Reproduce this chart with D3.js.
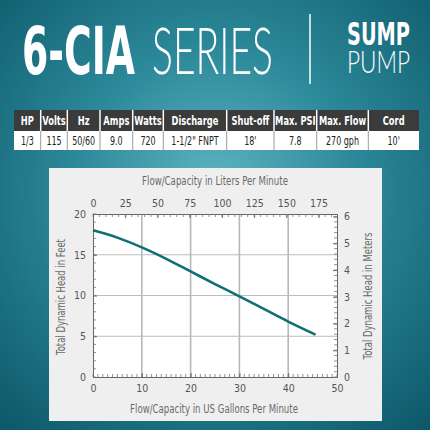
<!DOCTYPE html>
<html><head><meta charset="utf-8">
<script src="https://cdn.jsdelivr.net/npm/d3@7"></script>
<style>html,body{margin:0;padding:0;background:#0d5f6f;}svg{display:block;}</style>
</head><body>
<script>
// ---- data ----
const tableHeaders = ["HP","Volts","Hz","Amps","Watts","Discharge","Shut-off","Max. PSI","Max. Flow","Cord"];
const tableValues = ["1/3","115","50/60","9.0","720","1-1/2\" FNPT","18'","7.8","270 gph","10'"];
const flowGpm = [0, 5, 10, 15, 20, 25, 30, 35, 40, 45.6];
const headFeet = [18.0, 17.1, 15.9, 14.5, 12.95, 11.4, 9.9, 8.35, 6.8, 5.2];
const gpmTicks = [0,10,20,30,40,50];
const feetTicks = [0,5,10,15,20];
const literTicks = [0,25,50,75,100,125,150,175];
const meterTicks = [0,1,2,3,4,5,6];

const W = 430, H = 430;
const svg = d3.select("body").append("svg").attr("width", W).attr("height", H);
const defs = svg.append("defs");
const rg = defs.append("radialGradient").attr("id","bg").attr("gradientUnits","userSpaceOnUse")
  .attr("cx",215).attr("cy",190).attr("r",330);
rg.append("stop").attr("offset","0").attr("stop-color","#5fb4c2");
rg.append("stop").attr("offset","0.45").attr("stop-color","#2a8797");
rg.append("stop").attr("offset","1").attr("stop-color","#0b5566");
svg.append("rect").attr("width",W).attr("height",H).attr("fill","url(#bg)");

const narrow = "'DejaVu Sans Condensed','DejaVu Sans',sans-serif";
const thin = "Lato,'Open Sans',Roboto,sans-serif";

// text fitted to a target width by horizontal scaling (anchor start/middle at x)
function fitText(parent, str, x, y, size, target, opts){
  const g = parent.append("g");
  const t = g.append("text").attr("x",0).attr("y",0).attr("font-size",size)
    .attr("font-family",opts.family||narrow).attr("font-weight",opts.weight||"normal")
    .attr("fill",opts.fill||"#000").attr("text-anchor",opts.anchor||"middle").text(str);
  const w = t.node().getComputedTextLength();
  const sx = target ? target / w : (opts.sx||1);
  const sy = opts.sy || 1;
  g.attr("transform",`translate(${x},${y}) ${opts.rotate?`rotate(${opts.rotate})`:""} scale(${sx},${sy})`);
  return t;
}

// ---- title ----
fitText(svg,"6-CIA",22,74,66,113,{weight:"bold",fill:"#fff",anchor:"start"});
fitText(svg,"SERIES",152,74,66,121,{family:thin,weight:300,fill:"#fff",anchor:"start"});
svg.append("line").attr("x1",310).attr("x2",310).attr("y1",14).attr("y2",84).attr("stroke","#fff").attr("stroke-width",1.5);
fitText(svg,"SUMP",347,45,29,63,{weight:"bold",fill:"#fff",anchor:"start",sy:1.08});
fitText(svg,"PUMP",347,73,29,63,{family:thin,weight:300,fill:"#fff",anchor:"start",sy:1.08});

// ---- spec table ----
const colEdges = [14, 40.7, 67.3, 100, 132.7, 163.3, 226.7, 274, 316.7, 368.3, 419];
const hy0 = 110, hy1 = 131, dy1 = 150;
svg.append("rect").attr("x",14).attr("y",hy0).attr("width",405).attr("height",hy1-hy0).attr("fill","#3b3b3c");
svg.append("rect").attr("x",14).attr("y",hy1).attr("width",405).attr("height",dy1-hy1).attr("fill","#ffffff");
const tbl = svg.append("g");
tableHeaders.forEach((h,i)=>{
  const x0 = colEdges[i], x1 = colEdges[i+1], cx = (x0+x1)/2;
  if(i>0){
    tbl.append("line").attr("x1",x0).attr("x2",x0).attr("y1",hy0).attr("y2",hy1).attr("stroke","#ffffff").attr("stroke-width",1.5);
    tbl.append("line").attr("x1",x0).attr("x2",x0).attr("y1",hy1).attr("y2",dy1).attr("stroke","#9a9a9a").attr("stroke-width",1);
  }
  fitText(tbl, h, cx, (hy0+hy1)/2+4.5, 12.5, null, {weight:"bold",fill:"#fff",sx:0.74});
  fitText(tbl, tableValues[i], cx, (hy1+dy1)/2+4.5, 12, null, {fill:"#222",sx:0.74});
});

// ---- chart panel ----
svg.append("rect").attr("x",49).attr("y",168).attr("width",333).attr("height",253).attr("fill","#efefef");

const x = d3.scaleLinear().domain([0,50]).range([93,337]);
const y = d3.scaleLinear().domain([0,20]).range([377,214]);
const xL = d3.scaleLinear().domain([0,50*3.78541]).range([93,337]);
const yM = d3.scaleLinear().domain([0,20*0.3048]).range([377,214]);

svg.append("rect").attr("x",x(0)).attr("y",y(20)).attr("width",x(50)-x(0)).attr("height",y(0)-y(20)).attr("fill","#fff");

// grid
const grid = svg.append("g");
gpmTicks.filter(v=>v>0&&v<50).forEach(v=>{
  grid.append("line").attr("x1",x(v)).attr("x2",x(v)).attr("y1",y(0)).attr("y2",y(20)).attr("stroke","#b8b8b8").attr("stroke-width",1.6);
});
feetTicks.filter(v=>v>0&&v<20).forEach(v=>{
  grid.append("line").attr("x1",x(0)).attr("x2",x(50)).attr("y1",y(v)).attr("y2",y(v)).attr("stroke","#bdbdbd").attr("stroke-width",1.2);
});

const labStyle = sel => sel.selectAll("text").attr("font-family",narrow).attr("font-size",10.5).attr("fill","#555");
const styleAxis = g => { g.select(".domain").attr("stroke","#666"); g.selectAll("line").attr("stroke","#666"); labStyle(g); };

function minor(g, scale, vals, orient, len){
  vals.forEach(v=>{
    const p = scale(v);
    let a;
    if(orient==="bottom") a=[p,p,0,-len];
    else if(orient==="top") a=[p,p,0,len];
    else if(orient==="left") a=[0,len,p,p];
    else a=[0,-len,p,p];
    g.append("line").attr("x1",a[0]).attr("x2",a[1]).attr("y1",a[2]).attr("y2",a[3]).attr("stroke","#777").attr("stroke-width",0.8);
  });
}

const gB = svg.append("g").attr("transform",`translate(0,${y(0)})`)
  .call(d3.axisBottom(x).tickValues(gpmTicks).tickSize(-4).tickPadding(8).tickFormat(d3.format("d")));
styleAxis(gB);
minor(gB, x, d3.range(0,51,1), "bottom", 3);

const gT = svg.append("g").attr("transform",`translate(0,${y(20)})`)
  .call(d3.axisTop(xL).tickValues(literTicks).tickSize(-4).tickPadding(7).tickFormat(d3.format("d")));
styleAxis(gT);
minor(gT, xL, d3.range(0,190,5), "top", 3);

const gLf = svg.append("g").attr("transform",`translate(${x(0)},0)`)
  .call(d3.axisLeft(y).tickValues(feetTicks).tickSize(-4).tickPadding(7).tickFormat(d3.format("d")));
styleAxis(gLf);
minor(gLf, y, d3.range(0,21,1), "left", 3);

const gR = svg.append("g").attr("transform",`translate(${x(50)},0)`)
  .call(d3.axisRight(yM).tickValues(meterTicks).tickSize(-4).tickPadding(7).tickFormat(d3.format("d")));
styleAxis(gR);
minor(gR, yM, d3.range(0,6.01,0.2), "right", 3);

// curve
const line = d3.line().x((d,i)=>x(flowGpm[i])).y(d=>y(d)).curve(d3.curveMonotoneX);
svg.append("path").datum(headFeet).attr("d",line).attr("fill","none").attr("stroke","#0f6f73").attr("stroke-width",2.6);

// axis titles
const tOpts = {fill:"#6a6a6a"};
fitText(svg,"Flow/Capacity in Liters Per Minute",215,185,12.5,146,tOpts);
fitText(svg,"Flow/Capacity in US Gallons Per Minute",214,413,12.5,168,tOpts);
fitText(svg,"Total Dynamic Head in Feet",65,297,12.5,116,Object.assign({rotate:-90},tOpts));
fitText(svg,"Total Dynamic Head in Meters",372,296,12.5,127,Object.assign({rotate:-90},tOpts));
</script>
</body></html>
